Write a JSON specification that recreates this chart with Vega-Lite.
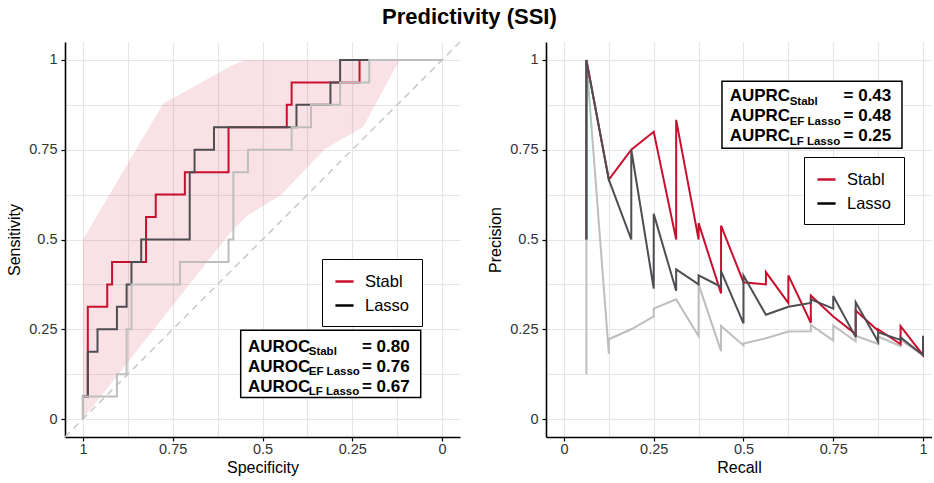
{
  "$schema": "https://vega.github.io/schema/vega-lite/v6.json",
  "autosize": {"type": "pad"},
  "padding": {"left": 6, "top": 6, "right": 0, "bottom": 0},
  "background": "white",
  "title": {"text": "Predictivity (SSI)", "font": "Liberation Sans", "fontSize": 22, "fontWeight": "bold", "color": "black", "anchor": "middle", "offset": 10},
  "config": {
    "font": "Liberation Sans",
    "view": {"stroke": null},
    "axis": {
      "labelFont": "Liberation Sans", "titleFont": "Liberation Sans",
      "labelFontSize": 14.5, "labelColor": "#333333",
      "titleFontSize": 16, "titleFontWeight": "normal", "titleColor": "black",
      "gridColor": "#e6e6e6", "gridWidth": 1.2,
      "domainColor": "black", "domainWidth": 1.6,
      "tickColor": "black", "tickSize": 4, "tickWidth": 1.2,
      "labelPadding": 4, "titlePadding": 6
    },
    "axisX": {"labelPadding": 1, "titlePadding": 4}
  },
  "datasets": {
    "roc": [
      {"model": "Stabl", "i": 0, "spec": 1, "sens": 0},
      {"model": "Stabl", "i": 1, "spec": 1, "sens": 0.0625},
      {"model": "Stabl", "i": 2, "spec": 0.9865, "sens": 0.0625},
      {"model": "Stabl", "i": 3, "spec": 0.9865, "sens": 0.3125},
      {"model": "Stabl", "i": 4, "spec": 0.9324, "sens": 0.3125},
      {"model": "Stabl", "i": 5, "spec": 0.9324, "sens": 0.375},
      {"model": "Stabl", "i": 6, "spec": 0.9189, "sens": 0.375},
      {"model": "Stabl", "i": 7, "spec": 0.9189, "sens": 0.4375},
      {"model": "Stabl", "i": 8, "spec": 0.8243, "sens": 0.4375},
      {"model": "Stabl", "i": 9, "spec": 0.8243, "sens": 0.5625},
      {"model": "Stabl", "i": 10, "spec": 0.7973, "sens": 0.5625},
      {"model": "Stabl", "i": 11, "spec": 0.7973, "sens": 0.625},
      {"model": "Stabl", "i": 12, "spec": 0.7162, "sens": 0.625},
      {"model": "Stabl", "i": 13, "spec": 0.7162, "sens": 0.6875},
      {"model": "Stabl", "i": 14, "spec": 0.5946, "sens": 0.6875},
      {"model": "Stabl", "i": 15, "spec": 0.5946, "sens": 0.8125},
      {"model": "Stabl", "i": 16, "spec": 0.4324, "sens": 0.8125},
      {"model": "Stabl", "i": 17, "spec": 0.4324, "sens": 0.875},
      {"model": "Stabl", "i": 18, "spec": 0.4189, "sens": 0.875},
      {"model": "Stabl", "i": 19, "spec": 0.4189, "sens": 0.9375},
      {"model": "Stabl", "i": 20, "spec": 0.2297, "sens": 0.9375},
      {"model": "Stabl", "i": 21, "spec": 0.2297, "sens": 1},
      {"model": "Stabl", "i": 22, "spec": 0, "sens": 1},
      {"model": "EF Lasso", "i": 0, "spec": 1, "sens": 0},
      {"model": "EF Lasso", "i": 1, "spec": 1, "sens": 0.0625},
      {"model": "EF Lasso", "i": 2, "spec": 0.9865, "sens": 0.0625},
      {"model": "EF Lasso", "i": 3, "spec": 0.9865, "sens": 0.1875},
      {"model": "EF Lasso", "i": 4, "spec": 0.9595, "sens": 0.1875},
      {"model": "EF Lasso", "i": 5, "spec": 0.9595, "sens": 0.25},
      {"model": "EF Lasso", "i": 6, "spec": 0.9054, "sens": 0.25},
      {"model": "EF Lasso", "i": 7, "spec": 0.9054, "sens": 0.3125},
      {"model": "EF Lasso", "i": 8, "spec": 0.8784, "sens": 0.3125},
      {"model": "EF Lasso", "i": 9, "spec": 0.8784, "sens": 0.375},
      {"model": "EF Lasso", "i": 10, "spec": 0.8649, "sens": 0.375},
      {"model": "EF Lasso", "i": 11, "spec": 0.8649, "sens": 0.4375},
      {"model": "EF Lasso", "i": 12, "spec": 0.8378, "sens": 0.4375},
      {"model": "EF Lasso", "i": 13, "spec": 0.8378, "sens": 0.5},
      {"model": "EF Lasso", "i": 14, "spec": 0.7027, "sens": 0.5},
      {"model": "EF Lasso", "i": 15, "spec": 0.7027, "sens": 0.6875},
      {"model": "EF Lasso", "i": 16, "spec": 0.6892, "sens": 0.6875},
      {"model": "EF Lasso", "i": 17, "spec": 0.6892, "sens": 0.75},
      {"model": "EF Lasso", "i": 18, "spec": 0.6351, "sens": 0.75},
      {"model": "EF Lasso", "i": 19, "spec": 0.6351, "sens": 0.8125},
      {"model": "EF Lasso", "i": 20, "spec": 0.4054, "sens": 0.8125},
      {"model": "EF Lasso", "i": 21, "spec": 0.4054, "sens": 0.875},
      {"model": "EF Lasso", "i": 22, "spec": 0.3108, "sens": 0.875},
      {"model": "EF Lasso", "i": 23, "spec": 0.3108, "sens": 0.9375},
      {"model": "EF Lasso", "i": 24, "spec": 0.2838, "sens": 0.9375},
      {"model": "EF Lasso", "i": 25, "spec": 0.2838, "sens": 1},
      {"model": "EF Lasso", "i": 26, "spec": 0, "sens": 1},
      {"model": "LF Lasso", "i": 0, "spec": 1, "sens": 0},
      {"model": "LF Lasso", "i": 1, "spec": 1, "sens": 0.0625},
      {"model": "LF Lasso", "i": 2, "spec": 0.9054, "sens": 0.0625},
      {"model": "LF Lasso", "i": 3, "spec": 0.9054, "sens": 0.125},
      {"model": "LF Lasso", "i": 4, "spec": 0.8784, "sens": 0.125},
      {"model": "LF Lasso", "i": 5, "spec": 0.8784, "sens": 0.25},
      {"model": "LF Lasso", "i": 6, "spec": 0.8649, "sens": 0.25},
      {"model": "LF Lasso", "i": 7, "spec": 0.8649, "sens": 0.375},
      {"model": "LF Lasso", "i": 8, "spec": 0.7297, "sens": 0.375},
      {"model": "LF Lasso", "i": 9, "spec": 0.7297, "sens": 0.4375},
      {"model": "LF Lasso", "i": 10, "spec": 0.5946, "sens": 0.4375},
      {"model": "LF Lasso", "i": 11, "spec": 0.5946, "sens": 0.5},
      {"model": "LF Lasso", "i": 12, "spec": 0.5811, "sens": 0.5},
      {"model": "LF Lasso", "i": 13, "spec": 0.5811, "sens": 0.6875},
      {"model": "LF Lasso", "i": 14, "spec": 0.5405, "sens": 0.6875},
      {"model": "LF Lasso", "i": 15, "spec": 0.5405, "sens": 0.75},
      {"model": "LF Lasso", "i": 16, "spec": 0.4189, "sens": 0.75},
      {"model": "LF Lasso", "i": 17, "spec": 0.4189, "sens": 0.8125},
      {"model": "LF Lasso", "i": 18, "spec": 0.3649, "sens": 0.8125},
      {"model": "LF Lasso", "i": 19, "spec": 0.3649, "sens": 0.875},
      {"model": "LF Lasso", "i": 20, "spec": 0.2838, "sens": 0.875},
      {"model": "LF Lasso", "i": 21, "spec": 0.2838, "sens": 0.9375},
      {"model": "LF Lasso", "i": 22, "spec": 0.2027, "sens": 0.9375},
      {"model": "LF Lasso", "i": 23, "spec": 0.2027, "sens": 1},
      {"model": "LF Lasso", "i": 24, "spec": 0, "sens": 1}
    ],
    "band": [
      {"spec": 1.0, "lower": 0, "upper": 0.5},
      {"spec": 0.777, "lower": 0.282, "upper": 0.878},
      {"spec": 0.588, "lower": 0.521, "upper": 0.983},
      {"spec": 0.55, "lower": 0.559, "upper": 1},
      {"spec": 0.54, "lower": 0.568, "upper": 1},
      {"spec": 0.449, "lower": 0.624, "upper": 1},
      {"spec": 0.326, "lower": 0.752, "upper": 1},
      {"spec": 0.22, "lower": 0.813, "upper": 1},
      {"spec": 0.118, "lower": 1, "upper": 1}
    ],
    "diag": [
      {"spec": 1.05, "sens": -0.05},
      {"spec": -0.05, "sens": 1.05}
    ],
    "pr": [
      {"model": "LF Lasso", "i": 0, "recall": 0.0625, "precision": 0.125},
      {"model": "LF Lasso", "i": 1, "recall": 0.0625, "precision": 1},
      {"model": "LF Lasso", "i": 2, "recall": 0.125, "precision": 0.1818},
      {"model": "LF Lasso", "i": 3, "recall": 0.125, "precision": 0.2222},
      {"model": "LF Lasso", "i": 4, "recall": 0.1875, "precision": 0.25},
      {"model": "LF Lasso", "i": 5, "recall": 0.25, "precision": 0.2857},
      {"model": "LF Lasso", "i": 6, "recall": 0.25, "precision": 0.3077},
      {"model": "LF Lasso", "i": 7, "recall": 0.3125, "precision": 0.3333},
      {"model": "LF Lasso", "i": 8, "recall": 0.375, "precision": 0.2308},
      {"model": "LF Lasso", "i": 9, "recall": 0.375, "precision": 0.375},
      {"model": "LF Lasso", "i": 10, "recall": 0.4375, "precision": 0.1892},
      {"model": "LF Lasso", "i": 11, "recall": 0.4375, "precision": 0.2593},
      {"model": "LF Lasso", "i": 12, "recall": 0.5, "precision": 0.2051},
      {"model": "LF Lasso", "i": 13, "recall": 0.5, "precision": 0.2105},
      {"model": "LF Lasso", "i": 14, "recall": 0.5625, "precision": 0.225},
      {"model": "LF Lasso", "i": 15, "recall": 0.625, "precision": 0.2439},
      {"model": "LF Lasso", "i": 16, "recall": 0.6875, "precision": 0.2444},
      {"model": "LF Lasso", "i": 17, "recall": 0.6875, "precision": 0.2619},
      {"model": "LF Lasso", "i": 18, "recall": 0.75, "precision": 0.2182},
      {"model": "LF Lasso", "i": 19, "recall": 0.75, "precision": 0.2609},
      {"model": "LF Lasso", "i": 20, "recall": 0.8125, "precision": 0.2167},
      {"model": "LF Lasso", "i": 21, "recall": 0.8125, "precision": 0.2321},
      {"model": "LF Lasso", "i": 22, "recall": 0.875, "precision": 0.209},
      {"model": "LF Lasso", "i": 23, "recall": 0.875, "precision": 0.2295},
      {"model": "LF Lasso", "i": 24, "recall": 0.9375, "precision": 0.2027},
      {"model": "LF Lasso", "i": 25, "recall": 0.9375, "precision": 0.2206},
      {"model": "LF Lasso", "i": 26, "recall": 1, "precision": 0.1778},
      {"model": "LF Lasso", "i": 27, "recall": 1, "precision": 0.2133},
      {"model": "Stabl", "i": 0, "recall": 0.0625, "precision": 0.5},
      {"model": "Stabl", "i": 1, "recall": 0.0625, "precision": 1},
      {"model": "Stabl", "i": 2, "recall": 0.125, "precision": 0.6667},
      {"model": "Stabl", "i": 3, "recall": 0.1875, "precision": 0.75},
      {"model": "Stabl", "i": 4, "recall": 0.25, "precision": 0.8},
      {"model": "Stabl", "i": 5, "recall": 0.3125, "precision": 0.5},
      {"model": "Stabl", "i": 6, "recall": 0.3125, "precision": 0.8333},
      {"model": "Stabl", "i": 7, "recall": 0.375, "precision": 0.5},
      {"model": "Stabl", "i": 8, "recall": 0.375, "precision": 0.5455},
      {"model": "Stabl", "i": 9, "recall": 0.4375, "precision": 0.35},
      {"model": "Stabl", "i": 10, "recall": 0.4375, "precision": 0.5385},
      {"model": "Stabl", "i": 11, "recall": 0.5, "precision": 0.381},
      {"model": "Stabl", "i": 12, "recall": 0.5625, "precision": 0.375},
      {"model": "Stabl", "i": 13, "recall": 0.5625, "precision": 0.4091},
      {"model": "Stabl", "i": 14, "recall": 0.625, "precision": 0.3226},
      {"model": "Stabl", "i": 15, "recall": 0.625, "precision": 0.4},
      {"model": "Stabl", "i": 16, "recall": 0.6875, "precision": 0.2683},
      {"model": "Stabl", "i": 17, "recall": 0.6875, "precision": 0.3438},
      {"model": "Stabl", "i": 18, "recall": 0.75, "precision": 0.2857},
      {"model": "Stabl", "i": 19, "recall": 0.8125, "precision": 0.2364},
      {"model": "Stabl", "i": 20, "recall": 0.8125, "precision": 0.3023},
      {"model": "Stabl", "i": 21, "recall": 0.875, "precision": 0.2456},
      {"model": "Stabl", "i": 22, "recall": 0.875, "precision": 0.25},
      {"model": "Stabl", "i": 23, "recall": 0.9375, "precision": 0.2083},
      {"model": "Stabl", "i": 24, "recall": 0.9375, "precision": 0.2586},
      {"model": "Stabl", "i": 25, "recall": 1, "precision": 0.1778},
      {"model": "Stabl", "i": 26, "recall": 1, "precision": 0.2192},
      {"model": "EF Lasso", "i": 0, "recall": 0.0625, "precision": 0.5},
      {"model": "EF Lasso", "i": 1, "recall": 0.0625, "precision": 1},
      {"model": "EF Lasso", "i": 2, "recall": 0.125, "precision": 0.6667},
      {"model": "EF Lasso", "i": 3, "recall": 0.1875, "precision": 0.5},
      {"model": "EF Lasso", "i": 4, "recall": 0.1875, "precision": 0.75},
      {"model": "EF Lasso", "i": 5, "recall": 0.25, "precision": 0.3636},
      {"model": "EF Lasso", "i": 6, "recall": 0.25, "precision": 0.5714},
      {"model": "EF Lasso", "i": 7, "recall": 0.3125, "precision": 0.3571},
      {"model": "EF Lasso", "i": 8, "recall": 0.3125, "precision": 0.4167},
      {"model": "EF Lasso", "i": 9, "recall": 0.375, "precision": 0.375},
      {"model": "EF Lasso", "i": 10, "recall": 0.375, "precision": 0.4},
      {"model": "EF Lasso", "i": 11, "recall": 0.4375, "precision": 0.3684},
      {"model": "EF Lasso", "i": 12, "recall": 0.4375, "precision": 0.4118},
      {"model": "EF Lasso", "i": 13, "recall": 0.5, "precision": 0.2667},
      {"model": "EF Lasso", "i": 14, "recall": 0.5, "precision": 0.4},
      {"model": "EF Lasso", "i": 15, "recall": 0.5625, "precision": 0.2903},
      {"model": "EF Lasso", "i": 16, "recall": 0.625, "precision": 0.3125},
      {"model": "EF Lasso", "i": 17, "recall": 0.6875, "precision": 0.3235},
      {"model": "EF Lasso", "i": 18, "recall": 0.6875, "precision": 0.3333},
      {"model": "EF Lasso", "i": 19, "recall": 0.75, "precision": 0.3077},
      {"model": "EF Lasso", "i": 20, "recall": 0.75, "precision": 0.3429},
      {"model": "EF Lasso", "i": 21, "recall": 0.8125, "precision": 0.2281},
      {"model": "EF Lasso", "i": 22, "recall": 0.8125, "precision": 0.325},
      {"model": "EF Lasso", "i": 23, "recall": 0.875, "precision": 0.2154},
      {"model": "EF Lasso", "i": 24, "recall": 0.875, "precision": 0.2414},
      {"model": "EF Lasso", "i": 25, "recall": 0.9375, "precision": 0.2206},
      {"model": "EF Lasso", "i": 26, "recall": 0.9375, "precision": 0.2273},
      {"model": "EF Lasso", "i": 27, "recall": 1, "precision": 0.1778},
      {"model": "EF Lasso", "i": 28, "recall": 1, "precision": 0.2319}
    ],
    "auroc": [
      {"model": "Stabl", "auc": 0.80},
      {"model": "EF Lasso", "auc": 0.76},
      {"model": "LF Lasso", "auc": 0.67}
    ],
    "auprc": [
      {"model": "Stabl", "auc": 0.43},
      {"model": "EF Lasso", "auc": 0.48},
      {"model": "LF Lasso", "auc": 0.25}
    ],
    "one": [{}]
  },
  "bounds": "flush",
  "spacing": 86,
  "resolve": {"scale": {"color": "independent"}, "legend": {"color": "independent"}},
  "hconcat": [
    {
      "width": 395,
      "height": 395,
      "layer": [
        {
          "data": {"name": "band"},
          "mark": {"type": "area", "color": "#c8102e", "opacity": 0.12},
          "encoding": {
            "x": {"field": "spec", "type": "quantitative", "title": "Specificity",
              "scale": {"domain": [-0.05, 1.05], "reverse": true, "nice": false, "zero": false},
              "axis": {"values": [0, 0.125, 0.25, 0.375, 0.5, 0.625, 0.75, 0.875, 1],
                "labelExpr": "(datum.value*4)%1==0 ? '' + datum.value : ''",
                "tickOpacity": {"condition": {"test": "(datum.value*4)%1==0", "value": 1}, "value": 0}}},
            "y": {"field": "lower", "type": "quantitative", "title": "Sensitivity",
              "scale": {"domain": [-0.05, 1.05], "nice": false, "zero": false},
              "axis": {"values": [0, 0.125, 0.25, 0.375, 0.5, 0.625, 0.75, 0.875, 1],
                "labelExpr": "(datum.value*4)%1==0 ? '' + datum.value : ''",
                "tickOpacity": {"condition": {"test": "(datum.value*4)%1==0", "value": 1}, "value": 0}}},
            "y2": {"field": "upper"}
          }
        },
        {
          "data": {"name": "diag"},
          "mark": {"type": "line", "color": "#c8c8c8", "strokeWidth": 1.5, "strokeDash": [7, 5]},
          "encoding": {
            "x": {"field": "spec", "type": "quantitative"},
            "y": {"field": "sens", "type": "quantitative"}
          }
        },
        {
          "data": {"name": "roc"},
          "mark": {"type": "line", "strokeWidth": 2},
          "encoding": {
            "x": {"field": "spec", "type": "quantitative"},
            "y": {"field": "sens", "type": "quantitative"},
            "order": {"field": "i"},
            "color": {"field": "model", "type": "nominal",
              "scale": {"domain": ["Stabl", "EF Lasso", "LF Lasso", "Lasso"], "range": ["#c8102e", "#4d4d52", "#bebebe", "#000000"]},
              "legend": {"title": null, "orient": "none", "legendX": 257, "legendY": 217,
                "values": ["Stabl", "Lasso"], "strokeColor": "black", "fillColor": "white", "padding": 12,
                "symbolType": "stroke", "symbolSize": 330, "symbolStrokeWidth": 2.5,
                "labelFontSize": 16.5, "labelColor": "black", "labelFont": "Liberation Sans",
                "rowPadding": 5, "labelOffset": 10}}
          }
        },
        {
          "data": {"name": "one"},
          "mark": {"type": "rect", "fill": "white", "stroke": "black", "strokeWidth": 1.5},
          "encoding": {
            "x": {"datum": 0.5607}, "x2": {"datum": 0.0594},
            "y": {"datum": 0.2474}, "y2": {"datum": 0.06}
          }
        },
        {
          "data": {"name": "auroc"},
          "mark": {"type": "text", "align": "left", "baseline": "alphabetic", "fontSize": 17, "fontWeight": "bold", "color": "black"},
          "encoding": {
            "x": {"datum": 0.5404}, "y": {"datum": 0.1878},
            "yOffset": {"field": "model", "type": "nominal", "scale": {"type": "point", "domain": ["Stabl", "EF Lasso", "LF Lasso"], "range": [0, 40], "padding": 0}},
            "text": {"value": "AUROC"}
          }
        },
        {
          "data": {"name": "auroc"},
          "mark": {"type": "text", "align": "left", "baseline": "alphabetic", "fontSize": 11.5, "fontWeight": "bold", "color": "black", "dy": 3.5},
          "encoding": {
            "x": {"datum": 0.3713}, "y": {"datum": 0.1878},
            "yOffset": {"field": "model", "type": "nominal", "scale": {"type": "point", "domain": ["Stabl", "EF Lasso", "LF Lasso"], "range": [0, 40], "padding": 0}},
            "text": {"field": "model"}
          }
        },
        {
          "data": {"name": "auroc"},
          "transform": [{"calculate": "'= ' + format(datum.auc, '.2f')", "as": "label"}],
          "mark": {"type": "text", "align": "right", "baseline": "alphabetic", "fontSize": 17, "fontWeight": "bold", "color": "black"},
          "encoding": {
            "x": {"datum": 0.0901}, "y": {"datum": 0.1878},
            "yOffset": {"field": "model", "type": "nominal", "scale": {"type": "point", "domain": ["Stabl", "EF Lasso", "LF Lasso"], "range": [0, 40], "padding": 0}},
            "text": {"field": "label"}
          }
        }
      ]
    },
    {
      "width": 386,
      "height": 395,
      "layer": [
        {
          "data": {"name": "pr"},
          "mark": {"type": "line", "strokeWidth": 2},
          "encoding": {
            "x": {"field": "recall", "type": "quantitative", "title": "Recall",
              "scale": {"domain": [-0.05, 1.025], "nice": false, "zero": false},
              "axis": {"values": [0, 0.125, 0.25, 0.375, 0.5, 0.625, 0.75, 0.875, 1],
                "labelExpr": "(datum.value*4)%1==0 ? '' + datum.value : ''",
                "tickOpacity": {"condition": {"test": "(datum.value*4)%1==0", "value": 1}, "value": 0}}},
            "y": {"field": "precision", "type": "quantitative", "title": "Precision",
              "scale": {"domain": [-0.05, 1.05], "nice": false, "zero": false},
              "axis": {"values": [0, 0.125, 0.25, 0.375, 0.5, 0.625, 0.75, 0.875, 1],
                "labelExpr": "(datum.value*4)%1==0 ? '' + datum.value : ''",
                "tickOpacity": {"condition": {"test": "(datum.value*4)%1==0", "value": 1}, "value": 0}}},
            "order": {"field": "i"},
            "color": {"field": "model", "type": "nominal",
              "scale": {"domain": ["Stabl", "EF Lasso", "LF Lasso", "Lasso"], "range": ["#c8102e", "#4d4d52", "#bebebe", "#000000"]},
              "legend": {"title": null, "orient": "none", "legendX": 258, "legendY": 115,
                "values": ["Stabl", "Lasso"], "strokeColor": "black", "fillColor": "white", "padding": 12,
                "symbolType": "stroke", "symbolSize": 330, "symbolStrokeWidth": 2.5,
                "labelFontSize": 16.5, "labelColor": "black", "labelFont": "Liberation Sans",
                "rowPadding": 5, "labelOffset": 10}}
          }
        },
        {
          "data": {"name": "one"},
          "mark": {"type": "rect", "fill": "white", "stroke": "black", "strokeWidth": 1.5},
          "encoding": {
            "x": {"datum": 0.4401}, "x2": {"datum": 0.9414},
            "y": {"datum": 0.9406}, "y2": {"datum": 0.754}
          }
        },
        {
          "data": {"name": "auprc"},
          "mark": {"type": "text", "align": "left", "baseline": "alphabetic", "fontSize": 17, "fontWeight": "bold", "color": "black"},
          "encoding": {
            "x": {"datum": 0.4616}, "y": {"datum": 0.8849},
            "yOffset": {"field": "model", "type": "nominal", "scale": {"type": "point", "domain": ["Stabl", "EF Lasso", "LF Lasso"], "range": [0, 40], "padding": 0}},
            "text": {"value": "AUPRC"}
          }
        },
        {
          "data": {"name": "auprc"},
          "mark": {"type": "text", "align": "left", "baseline": "alphabetic", "fontSize": 11.5, "fontWeight": "bold", "color": "black", "dy": 3.5},
          "encoding": {
            "x": {"datum": 0.6287}, "y": {"datum": 0.8849},
            "yOffset": {"field": "model", "type": "nominal", "scale": {"type": "point", "domain": ["Stabl", "EF Lasso", "LF Lasso"], "range": [0, 40], "padding": 0}},
            "text": {"field": "model"}
          }
        },
        {
          "data": {"name": "auprc"},
          "transform": [{"calculate": "'= ' + format(datum.auc, '.2f')", "as": "label"}],
          "mark": {"type": "text", "align": "right", "baseline": "alphabetic", "fontSize": 17, "fontWeight": "bold", "color": "black"},
          "encoding": {
            "x": {"datum": 0.9116}, "y": {"datum": 0.8849},
            "yOffset": {"field": "model", "type": "nominal", "scale": {"type": "point", "domain": ["Stabl", "EF Lasso", "LF Lasso"], "range": [0, 40], "padding": 0}},
            "text": {"field": "label"}
          }
        }
      ]
    }
  ]
}
